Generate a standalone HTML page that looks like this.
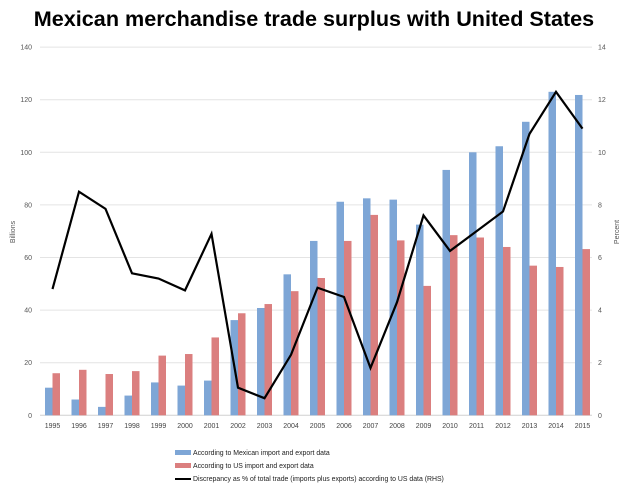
<!DOCTYPE html>
<html><head><meta charset="utf-8"><style>
body{margin:0;background:#fff;width:628px;height:491px;overflow:hidden}
svg{font-family:"Liberation Sans",sans-serif}
</style></head><body>
<svg id="s" width="628" height="491" xmlns="http://www.w3.org/2000/svg">
<text x="314" y="26" text-anchor="middle" font-size="21.6" font-weight="bold" fill="#000">Mexican merchandise trade surplus with United States</text>
<text transform="translate(15,232) rotate(-90)" text-anchor="middle" font-size="7" fill="#555">Billions</text>
<text transform="translate(619,232) rotate(-90)" text-anchor="middle" font-size="7" fill="#555">Percent</text>
<g id="g"></g>
<rect x="175" y="450" width="16" height="5" fill="#7ea6d6"/>
<text x="193" y="455" font-size="6.9" fill="#222">According to Mexican import and export data</text>
<rect x="175" y="463" width="16" height="5" fill="#db7f7f"/>
<text x="193" y="468" font-size="6.9" fill="#222">According to US import and export data</text>
<line x1="175" y1="479" x2="191" y2="479" stroke="#000" stroke-width="2"/>
<text x="193" y="481" font-size="6.9" fill="#222">Discrepancy as % of total trade (imports plus exports) according to US data (RHS)</text>
</svg>
<script>
var mx=[10.5,6,3.2,7.5,12.5,11.3,13.2,36.2,40.8,53.6,66.3,81.2,82.5,82,72.5,93.3,100,102.3,111.6,123,121.8];
var us=[16,17.3,15.7,16.8,22.7,23.3,29.6,38.8,42.3,47.2,52.2,66.3,76.2,66.5,49.2,68.5,67.6,64,56.9,56.4,63.2];
var pc=[4.8,8.5,7.85,5.4,5.2,4.75,6.9,1.05,0.65,2.3,4.85,4.5,1.8,4.3,7.6,6.25,7,7.75,10.7,12.3,10.9];
var y0=415.3,k=2.63,h='';
for(var v=0;v<=140;v+=20){var y=y0-v*k;
 if(v>0)h+='<line x1="40" x2="592" y1="'+y+'" y2="'+y+'" stroke="#e4e4e4" stroke-width="1"/>';
 h+='<text x="32" y="'+(y+2.5)+'" text-anchor="end" font-size="7" fill="#555">'+v+'</text>';
 h+='<text x="598" y="'+(y+2.5)+'" font-size="7" fill="#555">'+(v/10)+'</text>';}
h+='<line x1="40" x2="592" y1="'+y0+'" y2="'+y0+'" stroke="#d0d0d0" stroke-width="1"/>';
var pts=[];
for(var i=0;i<21;i++){var c=52.5+i*26.5;
 h+='<rect x="'+(c-7.5)+'" y="'+(y0-mx[i]*k)+'" width="7.5" height="'+(mx[i]*k)+'" fill="#7ea6d6"/>';
 h+='<rect x="'+c+'" y="'+(y0-us[i]*k)+'" width="7.5" height="'+(us[i]*k)+'" fill="#db7f7f"/>';
 h+='<text x="'+c+'" y="428" text-anchor="middle" font-size="7" fill="#444">'+(1995+i)+'</text>';
 pts.push(c+','+(y0-pc[i]*26.3));}
h+='<polyline points="'+pts.join(' ')+'" fill="none" stroke="#000" stroke-width="2.2" stroke-linejoin="miter"/>';
document.getElementById('g').innerHTML=h;
</script>
</body></html>
